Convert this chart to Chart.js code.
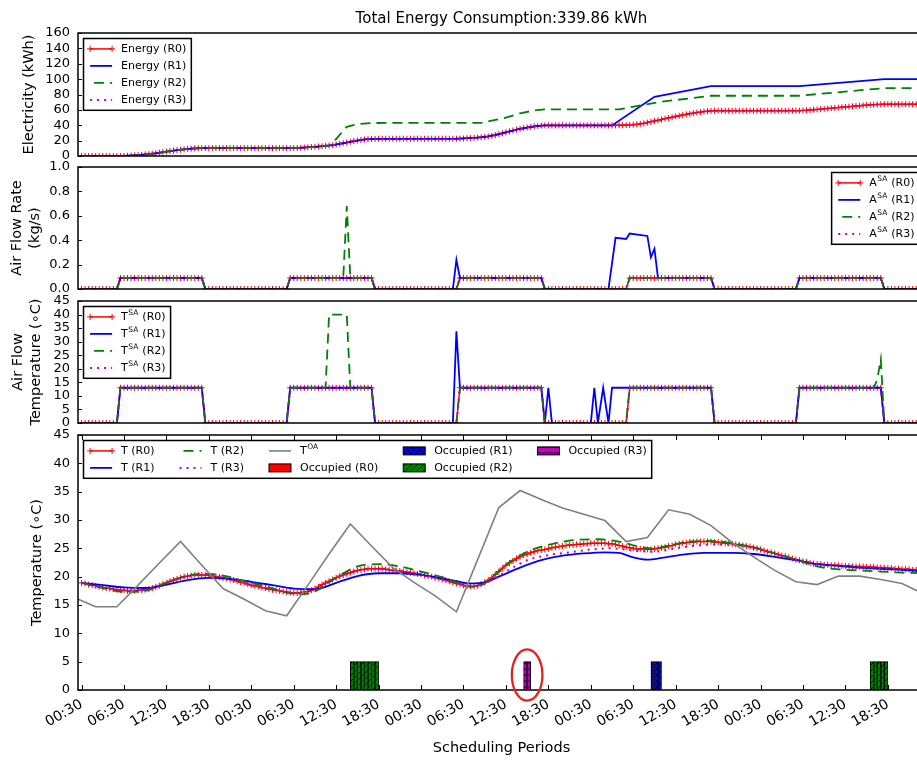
<!DOCTYPE html>
<html>
<head>
<meta charset="utf-8">
<script src="https://cdn.jsdelivr.net/npm/chart.js@4.4.0/dist/chart.umd.min.js"></script>
<style>
  html, body { margin: 0; padding: 0; background: #fff; overflow: hidden; width: 917px; height: 760px; }
  #wrap { position: relative; width: 930px; height: 760px; }
  #wrap canvas { position: absolute; left: 0; top: 0; }
</style>
</head>
<body>
<div id="wrap">
  <canvas id="energyChart" width="930" height="760"></canvas>
  <canvas id="flowChart" width="930" height="760"></canvas>
  <canvas id="supplyChart" width="930" height="760"></canvas>
  <canvas id="roomChart" width="930" height="760"></canvas>
</div>
<script>
const heading = 'Total Energy Consumption:339.86 kWh';

// half-hour scheduling periods, period 0 = 00:30 on day one
const tickPositions = [0, 12, 24, 36, 48, 60, 72, 84, 96, 108, 120, 132, 144, 156, 168, 180, 192, 204, 216, 228];
const tickLabels = ['00:30', '06:30', '12:30', '18:30', '00:30', '06:30', '12:30', '18:30',
  '00:30', '06:30', '12:30', '18:30', '00:30', '06:30', '12:30', '18:30',
  '00:30', '06:30', '12:30', '18:30'];

// cumulative electricity (kWh)
const energyR0 = [
  0, 0, 0, 0, 0, 0, 0, 0, 0, 0, 0, 0,
  0.1, 0.3, 0.6, 0.9, 1.2, 1.6, 2.0, 2.3, 2.9, 3.6, 4.3, 5.0, 5.7, 6.4, 7.0, 7.6, 8.2, 8.7, 9.2, 9.6, 9.9, 10.1, 10.2,
  10.2, 10.2, 10.2, 10.2, 10.2, 10.2, 10.2, 10.2, 10.2, 10.2, 10.2, 10.2, 10.2, 10.2, 10.2, 10.2, 10.2, 10.2, 10.2, 10.2, 10.2, 10.2, 10.2, 10.2, 10.2, 10.2,
  10.4, 10.7, 11.0, 11.4, 11.7, 12.0, 12.4, 12.8, 13.2, 13.6, 14.1, 14.9, 15.8, 16.7, 17.6, 18.5, 19.4, 20.2, 20.9, 21.5, 21.9, 22.2, 22.4,
  22.5, 22.5, 22.5, 22.5, 22.5, 22.5, 22.5, 22.5, 22.5, 22.5, 22.5, 22.5, 22.5, 22.5, 22.5, 22.5, 22.5, 22.5, 22.5, 22.5, 22.5, 22.5, 22.5,
  22.6, 22.8, 23.1, 23.4, 23.7, 24.0, 24.4, 24.8, 25.4, 26.2, 27.2, 28.4, 29.6, 30.8, 32.0, 33.2, 34.3, 35.3, 36.2, 37.0, 37.8, 38.5, 39.1, 39.6, 39.8,
  39.8, 39.8, 39.8, 39.8, 39.8, 39.8, 39.8, 39.8, 39.8, 39.8, 39.8, 39.8, 39.8, 39.8, 39.8, 39.8, 39.8, 39.8, 39.8,
  39.9, 40.0, 40.1, 40.2, 40.4, 40.7, 41.2, 41.8, 42.6, 43.5, 44.5, 45.5, 46.5, 47.5, 48.5, 49.5, 50.5, 51.5, 52.4, 53.3, 54.2, 55.0, 55.8, 56.5, 57.2, 57.8, 58.3, 58.7, 58.9,
  58.9, 58.9, 58.9, 58.9, 58.9, 58.9, 58.9, 58.9, 58.9, 58.9, 58.9, 58.9, 58.9, 58.9, 58.9, 58.9, 58.9, 58.9, 58.9, 58.9, 58.9, 58.9, 58.9,
  59.0, 59.2, 59.5, 59.8, 60.2, 60.6, 61.0, 61.4, 61.8, 62.2, 62.6, 63.0, 63.4, 63.8, 64.2, 64.6, 65.0, 65.4, 65.8, 66.2, 66.5, 66.8, 67.0, 67.2, 67.3,
  67.3, 67.3, 67.3, 67.3, 67.3, 67.3, 67.3, 67.3, 67.3, 67.3, 67.3, 67.3
];
const energyR1 = [[0, 0], [12, 0], [16, 1.2], [20, 2.9], [27, 7.6], [31, 9.6], [34, 10.2], [60, 10.2], [66, 12.0], [71, 14.1],
  [76, 18.5], [80, 21.5], [83, 22.4], [106, 22.5], [112, 24.0], [115, 25.4], [118, 28.4], [124, 35.3], [128, 38.5], [131, 39.8],
  [150, 39.8], [162, 77], [178, 91], [203, 91], [227, 100], [239, 100]];
const energyR2 = [[0, 0], [12, 0], [16, 1.2], [20, 2.9], [27, 7.6], [31, 9.6], [34, 10.2], [60, 10.2], [66, 12.0], [70, 13.6],
  [71, 17], [75, 38], [78, 41.5], [82, 42.8], [86, 43.1], [113, 43.1], [116, 46], [120, 50], [124, 55.4], [128, 59.3], [131, 60.6],
  [152, 60.6], [157, 65], [164, 70.6], [172, 75], [178, 78.4], [203, 78.4], [227, 88.3], [239, 88.3]];
const energyR3 = energyR0;

// supply air flow rate (kg/s)
const flowR0 = [
  0, 0, 0, 0, 0, 0, 0, 0, 0, 0, 0, 0.09, 0.09, 0.09, 0.09, 0.09, 0.09, 0.09, 0.09, 0.09, 0.09, 0.09, 0.09, 0.09, 0.09, 0.09, 0.09, 0.09, 0.09, 0.09, 0.09, 0.09, 0.09, 0.09, 0.09, 0, 0, 0, 0, 0, 0, 0, 0, 0, 0, 0, 0, 0,
  0, 0, 0, 0, 0, 0, 0, 0, 0, 0, 0, 0.09, 0.09, 0.09, 0.09, 0.09, 0.09, 0.09, 0.09, 0.09, 0.09, 0.09, 0.09, 0.09, 0.09, 0.09, 0.09, 0.09, 0.09, 0.09, 0.09, 0.09, 0.09, 0.09, 0.09, 0, 0, 0, 0, 0, 0, 0, 0, 0, 0, 0, 0, 0,
  0, 0, 0, 0, 0, 0, 0, 0, 0, 0, 0, 0.09, 0.09, 0.09, 0.09, 0.09, 0.09, 0.09, 0.09, 0.09, 0.09, 0.09, 0.09, 0.09, 0.09, 0.09, 0.09, 0.09, 0.09, 0.09, 0.09, 0.09, 0.09, 0.09, 0.09, 0, 0, 0, 0, 0, 0, 0, 0, 0, 0, 0, 0, 0,
  0, 0, 0, 0, 0, 0, 0, 0, 0, 0, 0, 0.09, 0.09, 0.09, 0.09, 0.09, 0.09, 0.09, 0.09, 0.09, 0.09, 0.09, 0.09, 0.09, 0.09, 0.09, 0.09, 0.09, 0.09, 0.09, 0.09, 0.09, 0.09, 0.09, 0.09, 0, 0, 0, 0, 0, 0, 0, 0, 0, 0, 0, 0, 0,
  0, 0, 0, 0, 0, 0, 0, 0, 0, 0, 0, 0.09, 0.09, 0.09, 0.09, 0.09, 0.09, 0.09, 0.09, 0.09, 0.09, 0.09, 0.09, 0.09, 0.09, 0.09, 0.09, 0.09, 0.09, 0.09, 0.09, 0.09, 0.09, 0.09, 0.09, 0, 0, 0, 0, 0, 0, 0, 0, 0, 0, 0, 0, 0
];
const flowR1 = [[0, 0], [10, 0], [11, 0.09], [34, 0.09], [35, 0], [58, 0], [59, 0.09], [82, 0.09], [83, 0], [105, 0], [106, 0.24],
  [107, 0.09], [130, 0.09], [131, 0], [149, 0], [151, 0.42], [154, 0.41], [155, 0.455], [160, 0.435], [161, 0.26], [162, 0.33],
  [163, 0.09], [178, 0.09], [179, 0], [202, 0], [203, 0.09], [226, 0.09], [227, 0], [239, 0]];
const flowR2 = [[0, 0], [10, 0], [11, 0.09], [34, 0.09], [35, 0], [58, 0], [59, 0.09], [74, 0.09], [75, 0.68], [76, 0.09],
  [82, 0.09], [83, 0], [106, 0], [107, 0.09], [130, 0.09], [131, 0], [154, 0], [155, 0.09], [178, 0.09], [179, 0], [202, 0],
  [203, 0.09], [226, 0.09], [227, 0], [239, 0]];
const flowR3 = flowR0;

// supply air temperature (C)
const supplyR0 = [
  0, 0, 0, 0, 0, 0, 0, 0, 0, 0, 0, 13, 13, 13, 13, 13, 13, 13, 13, 13, 13, 13, 13, 13, 13, 13, 13, 13, 13, 13, 13, 13, 13, 13, 13, 0, 0, 0, 0, 0, 0, 0, 0, 0, 0, 0, 0, 0,
  0, 0, 0, 0, 0, 0, 0, 0, 0, 0, 0, 13, 13, 13, 13, 13, 13, 13, 13, 13, 13, 13, 13, 13, 13, 13, 13, 13, 13, 13, 13, 13, 13, 13, 13, 0, 0, 0, 0, 0, 0, 0, 0, 0, 0, 0, 0, 0,
  0, 0, 0, 0, 0, 0, 0, 0, 0, 0, 0, 13, 13, 13, 13, 13, 13, 13, 13, 13, 13, 13, 13, 13, 13, 13, 13, 13, 13, 13, 13, 13, 13, 13, 13, 0, 0, 0, 0, 0, 0, 0, 0, 0, 0, 0, 0, 0,
  0, 0, 0, 0, 0, 0, 0, 0, 0, 0, 0, 13, 13, 13, 13, 13, 13, 13, 13, 13, 13, 13, 13, 13, 13, 13, 13, 13, 13, 13, 13, 13, 13, 13, 13, 0, 0, 0, 0, 0, 0, 0, 0, 0, 0, 0, 0, 0,
  0, 0, 0, 0, 0, 0, 0, 0, 0, 0, 0, 13, 13, 13, 13, 13, 13, 13, 13, 13, 13, 13, 13, 13, 13, 13, 13, 13, 13, 13, 13, 13, 13, 13, 13, 0, 0, 0, 0, 0, 0, 0, 0, 0, 0, 0, 0, 0
];
const supplyR1 = [[0, 0], [10, 0], [11, 13], [34, 13], [35, 0], [58, 0], [59, 13], [82, 13], [83, 0], [105, 0], [106, 33.8],
  [107, 13], [130, 13], [131, 0], [132, 13], [133, 0], [144, 0], [145, 13], [146, 0], [147.5, 13], [149, 0], [150, 13],
  [178, 13], [179, 0], [202, 0], [203, 13], [226, 13], [227, 0], [239, 0]];
const supplyR2 = [[0, 0], [10, 0], [11, 13], [34, 13], [35, 0], [58, 0], [59, 13], [69, 13], [70, 40], [75, 40], [76, 13],
  [82, 13], [83, 0], [106, 0], [107, 13], [130, 13], [131, 0], [154, 0], [155, 13], [178, 13], [179, 0], [202, 0], [203, 13],
  [224, 13], [225, 16], [226, 23.5], [227, 0], [239, 0]];
const supplyR3 = supplyR0;

// room temperature (C)
const roomR0 = [
  18.9, 18.8, 18.6, 18.5, 18.4, 18.2, 18.1, 18.0, 17.9, 17.8, 17.7, 17.6, 17.6, 17.5, 17.5, 17.5, 17.6, 17.6, 17.7, 17.8, 18.0, 18.2, 18.4, 18.7,
  18.9, 19.2, 19.4, 19.6, 19.8, 20.0, 20.1, 20.2, 20.3, 20.3, 20.3, 20.3, 20.2, 20.1, 20.0, 19.9, 19.8, 19.7, 19.5, 19.4, 19.2, 19.0, 18.9, 18.7,
  18.5, 18.4, 18.3, 18.1, 18.0, 17.8, 17.7, 17.6, 17.5, 17.4, 17.3, 17.2, 17.1, 17.1, 17.2, 17.3, 17.4, 17.6, 17.9, 18.2, 18.6, 18.9, 19.2, 19.5,
  19.8, 20.1, 20.3, 20.5, 20.7, 20.9, 21.1, 21.2, 21.3, 21.4, 21.4, 21.4, 21.4, 21.4, 21.3, 21.2, 21.1, 21.1, 21.0, 20.9, 20.8, 20.7, 20.6, 20.5,
  20.4, 20.2, 20.1, 20.0, 19.8, 19.7, 19.5, 19.4, 19.2, 19.0, 18.8, 18.7, 18.5, 18.3, 18.3, 18.3, 18.4, 18.7, 19.0, 19.4, 19.8, 20.4, 20.9, 21.5,
  22.0, 22.4, 22.8, 23.2, 23.5, 23.8, 24.0, 24.2, 24.4, 24.6, 24.7, 24.8, 24.9, 25.1, 25.2, 25.3, 25.4, 25.5, 25.6, 25.6, 25.7, 25.7, 25.8, 25.8,
  25.9, 25.9, 25.9, 25.9, 25.9, 25.8, 25.8, 25.7, 25.5, 25.4, 25.2, 25.1, 25.0, 24.9, 24.9, 24.9, 24.8, 24.8, 24.9, 25.0, 25.1, 25.2, 25.4, 25.5,
  25.7, 25.8, 25.9, 26.0, 26.1, 26.1, 26.2, 26.2, 26.2, 26.2, 26.2, 26.1, 26.1, 26.0, 25.9, 25.9, 25.8, 25.7, 25.6, 25.5, 25.4, 25.3, 25.1, 25.0,
  24.8, 24.6, 24.4, 24.3, 24.1, 23.9, 23.7, 23.6, 23.4, 23.2, 23.0, 22.9, 22.7, 22.6, 22.4, 22.3, 22.2, 22.2, 22.1, 22.1, 22.0, 22.0, 22.0, 21.9,
  21.9, 21.9, 21.8, 21.8, 21.8, 21.8, 21.7, 21.7, 21.7, 21.6, 21.6, 21.6, 21.5, 21.5, 21.4, 21.4, 21.3, 21.3, 21.3, 21.2, 21.2, 21.2, 21.1, 21.1
];
const roomR1 = [[0, 18.9], [6, 18.5], [12, 18.1], [18, 18.0], [24, 18.6], [30, 19.4], [36, 19.8], [42, 19.6], [48, 19.1], [54, 18.5],
  [60, 17.9], [66, 17.8], [72, 18.9], [78, 20.1], [84, 20.6], [90, 20.6], [96, 20.3], [102, 19.7], [106, 19.2], [110, 18.8],
  [114, 19.0], [118, 20.0], [124, 21.6], [130, 22.9], [136, 23.7], [142, 24.1], [148, 24.3], [152, 24.2], [156, 23.4], [160, 23.0],
  [164, 23.3], [170, 23.9], [176, 24.2], [184, 24.2], [190, 24.0], [196, 23.5], [202, 22.9], [208, 22.2], [214, 21.9], [220, 21.6],
  [226, 21.4], [232, 21.2], [239, 20.9]];
const roomR2 = [[0, 18.9], [6, 18.0], [12, 17.3], [18, 17.5], [24, 18.9], [30, 20.2], [34, 20.5], [40, 20.2], [46, 19.2], [52, 18.3],
  [58, 17.2], [62, 16.9], [66, 17.4], [72, 19.8], [78, 21.8], [84, 22.2], [90, 21.8], [96, 20.9], [102, 19.9], [106, 19.0],
  [110, 18.2], [114, 18.8], [118, 21.0], [122, 23.0], [128, 24.9], [134, 25.9], [140, 26.5], [146, 26.6], [150, 26.4], [154, 25.9],
  [158, 25.2], [162, 25.0], [166, 25.5], [172, 26.2], [178, 26.3], [184, 25.9], [190, 25.2], [196, 24.1], [202, 23.0], [208, 21.8],
  [214, 21.3], [220, 21.1], [226, 20.9], [232, 20.7], [239, 20.6]];
const roomR3 = [[0, 18.9], [6, 18.1], [12, 17.6], [18, 17.7], [24, 18.9], [30, 20.1], [36, 20.3], [42, 19.6], [48, 18.5], [54, 17.7],
  [60, 17.1], [66, 17.8], [72, 19.8], [78, 21.1], [84, 21.4], [90, 21.0], [96, 20.4], [102, 19.5], [108, 18.5], [112, 18.4],
  [116, 19.4], [120, 20.9], [126, 22.9], [132, 23.8], [138, 24.3], [144, 24.8], [150, 25.0], [156, 24.6], [162, 24.4], [168, 25.0],
  [174, 25.5], [180, 25.7], [186, 25.5], [192, 24.8], [198, 23.7], [204, 22.7], [210, 22.1], [216, 21.9], [222, 21.7], [228, 21.5],
  [234, 21.3], [239, 21.1]];
// outdoor air, 3-hourly
const outdoor = [[-2, 16.3], [4, 14.7], [10, 14.7], [16, 18.5], [22, 22.4], [28, 26.2], [34, 22.0], [40, 17.9], [46, 16.0],
  [52, 14.0], [58, 13.1], [64, 18.5], [70, 24.0], [76, 29.3], [82, 25.4], [88, 21.6], [94, 19.0], [100, 16.6], [106, 13.8],
  [112, 23.0], [118, 32.2], [124, 35.2], [130, 33.6], [136, 32.1], [142, 31.0], [148, 29.9], [154, 26.2], [160, 26.9],
  [166, 31.8], [172, 31.0], [178, 29.0], [184, 26.0], [190, 23.5], [196, 21.1], [202, 19.1], [208, 18.6], [214, 20.1],
  [220, 20.1], [226, 19.5], [232, 18.8], [238, 17.0]];

// occupied periods per room
const occR0 = [];
const occR1 = [161, 162, 163];
const occR2 = [76, 77, 78, 79, 80, 81, 82, 83, 223, 224, 225, 226, 227];
const occR3 = [125, 126];
const occupiedLevel = 5;

Chart.defaults.font.family = '"DejaVu Sans", sans-serif';
Chart.defaults.color = '#000';

const W = 930;
const X_MIN = -1, X_MAX = 238.5;
const PLOT_RIGHT = 927.3;
const FONT = '"DejaVu Sans", sans-serif';

const series = arr => arr.map((v, i) => ({ x: i, y: v }));
const pairs = arr => arr.map(([x, y]) => ({ x, y }));

const r0Style = { borderColor: '#ff0000', borderWidth: 1.5, pointStyle: 'cross', pointRadius: 3, pointBorderColor: '#ff0000', pointBorderWidth: 1, order: 4 };
const r1Style = { borderColor: '#0000ff', borderWidth: 1.8, pointRadius: 0, order: 3 };
const r2Style = { borderColor: '#008000', borderWidth: 1.8, borderDash: [10, 6], pointRadius: 0, order: 2 };
const r3Style = { borderColor: '#bf00bf', borderWidth: 2, borderDash: [2, 5], pointRadius: 0, order: 1 };

function hatch(bg, kind) {
  const c = document.createElement('canvas');
  c.width = 6; c.height = 6;
  const g = c.getContext('2d');
  g.fillStyle = bg;
  g.fillRect(0, 0, 6, 6);
  g.strokeStyle = '#000';
  g.lineWidth = 0.8;
  g.beginPath();
  if (kind === 'diag' || kind === 'cross') {
    g.moveTo(0, 6); g.lineTo(6, 0);
    g.moveTo(-3, 3); g.lineTo(3, -3);
    g.moveTo(3, 9); g.lineTo(9, 3);
  }
  if (kind === 'cross') {
    g.moveTo(0, 0); g.lineTo(6, 6);
    g.moveTo(-3, 3); g.lineTo(3, 9);
    g.moveTo(3, -3); g.lineTo(9, 3);
  }
  if (kind === 'wave') {
    g.moveTo(0, 4); g.lineTo(1.5, 2); g.lineTo(3, 4); g.lineTo(4.5, 2); g.lineTo(6, 4);
  }
  g.stroke();
  return g.createPattern(c, 'repeat');
}

// box around the plot plus inward tick marks
const frame = {
  id: 'frame',
  afterDatasetsDraw(chart) {
    const { ctx, chartArea: a, scales } = chart;
    ctx.save();
    ctx.strokeStyle = '#000';
    ctx.lineWidth = 1;
    ctx.beginPath();
    scales.y.ticks.forEach(t => {
      const py = Math.round(scales.y.getPixelForValue(t.value)) + 0.5;
      ctx.moveTo(a.left, py); ctx.lineTo(a.left + 4, py);
      ctx.moveTo(a.right, py); ctx.lineTo(a.right - 4, py);
    });
    if (scales.x.options.display) {
      scales.x.ticks.forEach(t => {
        const px = Math.round(scales.x.getPixelForValue(t.value)) + 0.5;
        ctx.moveTo(px, a.bottom); ctx.lineTo(px, a.bottom - 5);
        ctx.moveTo(px, a.top); ctx.lineTo(px, a.top + 5);
      });
    }
    ctx.stroke();
    ctx.lineWidth = 1.5;
    ctx.strokeRect(a.left, a.top, a.right - a.left, a.bottom - a.top);
    ctx.restore();
  }
};

const headingPlugin = {
  id: 'heading',
  afterDraw(chart, args, o) {
    if (!o || !o.text) return;
    const { ctx, chartArea: a } = chart;
    ctx.save();
    ctx.font = '15px ' + FONT;
    ctx.fillStyle = '#000';
    ctx.textAlign = 'center';
    ctx.textBaseline = 'middle';
    ctx.fillText(o.text, (a.left + a.right) / 2, o.y);
    ctx.restore();
  }
};

const markRing = {
  id: 'markRing',
  afterDatasetsDraw(chart, args, o) {
    if (!o || o.x == null) return;
    const { ctx, scales: { x, y } } = chart;
    ctx.save();
    ctx.strokeStyle = o.color;
    ctx.lineWidth = o.width;
    ctx.beginPath();
    ctx.ellipse(x.getPixelForValue(o.x), y.getPixelForValue(o.y), o.rx, o.ry, 0, 0, Math.PI * 2);
    ctx.stroke();
    ctx.restore();
  }
};

// legend drawn in the old matplotlib way, inside the axes
const LG = { font: '11px ' + FONT, supFont: '7.5px ' + FONT, handle: 22, textPad: 9, colSep: 25, padL: 6.6, padR: 5, padY: 1.9, rowH: 17, inset: 5.5 };

function labelWidth(ctx, d) {
  ctx.font = LG.font;
  let w = ctx.measureText(d.label).width;
  if (d.labelSup) {
    ctx.font = LG.supFont;
    w += ctx.measureText(d.labelSup).width + 1;
    ctx.font = LG.font;
    w += ctx.measureText(d.labelTail).width;
  }
  return w;
}

function drawHandle(ctx, d, x, y) {
  ctx.save();
  if (d.type === 'bar') {
    ctx.fillStyle = d.backgroundColor;
    ctx.fillRect(x, y - 4, LG.handle, 8);
    ctx.strokeStyle = '#000';
    ctx.lineWidth = 1;
    ctx.strokeRect(x, y - 4, LG.handle, 8);
  } else {
    ctx.strokeStyle = d.borderColor;
    ctx.lineWidth = d.borderWidth;
    if (d.borderDash) {
      ctx.setLineDash(d.borderDash);
      ctx.lineDashOffset = d.borderDash[0] > 4 ? 12 : 0;
    }
    ctx.beginPath();
    ctx.moveTo(x, y); ctx.lineTo(x + LG.handle, y);
    ctx.stroke();
    ctx.setLineDash([]);
    if (d.pointStyle === 'cross') {
      ctx.lineWidth = 1;
      ctx.beginPath();
      [x, x + LG.handle].forEach(px => {
        ctx.moveTo(px - 3, y); ctx.lineTo(px + 3, y);
        ctx.moveTo(px, y - 3); ctx.lineTo(px, y + 3);
      });
      ctx.stroke();
    }
  }
  ctx.restore();
}

function drawLabel(ctx, d, x, y) {
  ctx.fillStyle = '#000';
  ctx.textAlign = 'left';
  ctx.textBaseline = 'middle';
  ctx.font = LG.font;
  ctx.fillText(d.label, x, y);
  if (d.labelSup) {
    x += ctx.measureText(d.label).width;
    ctx.font = LG.supFont;
    ctx.fillText(d.labelSup, x + 0.5, y - 3.5);
    x += ctx.measureText(d.labelSup).width + 1;
    ctx.font = LG.font;
    ctx.fillText(d.labelTail, x, y);
  }
}

const mplLegend = {
  id: 'mplLegend',
  afterDraw(chart, args, o) {
    if (!o || !o.ncol) return;
    const { ctx, chartArea: a } = chart;
    const ds = chart.data.datasets;
    const nrow = Math.ceil(ds.length / o.ncol);
    ctx.save();
    const colW = [];
    for (let c = 0; c < o.ncol; c++) {
      let w = 0;
      ds.slice(c * nrow, c * nrow + nrow).forEach(d => { w = Math.max(w, labelWidth(ctx, d)); });
      colW.push(w);
    }
    const width = LG.padL + colW.reduce((s, w) => s + LG.handle + LG.textPad + w, 0) + (o.ncol - 1) * LG.colSep + LG.padR;
    const height = 2 * LG.padY + nrow * LG.rowH;
    const left = o.corner === 'tr' ? a.right - LG.inset - width : a.left + LG.inset;
    const top = a.top + LG.inset;
    ctx.fillStyle = '#fff';
    ctx.fillRect(left, top, width, height);
    ctx.strokeStyle = '#000';
    ctx.lineWidth = 1.5;
    ctx.strokeRect(left, top, width, height);
    let x = left + LG.padL;
    for (let c = 0; c < o.ncol; c++) {
      for (let r = 0; r < nrow; r++) {
        const d = ds[c * nrow + r];
        if (!d) continue;
        const y = top + LG.padY + LG.rowH * (r + 0.5);
        drawHandle(ctx, d, x, y);
        drawLabel(ctx, d, x + LG.handle + LG.textPad, y);
      }
      x += LG.handle + LG.textPad + colW[c] + LG.colSep;
    }
    ctx.restore();
  }
};

function xAxis(show) {
  return {
    type: 'linear',
    min: X_MIN,
    max: X_MAX,
    offset: false,
    display: show,
    grid: { display: false, drawTicks: false, offset: false },
    border: { display: false },
    afterBuildTicks(s) { s.ticks = tickPositions.map(v => ({ value: v })); },
    afterFit(s) { if (show) s.height = 70; },
    ticks: {
      autoSkip: false,
      minRotation: 30,
      maxRotation: 30,
      padding: 6,
      font: { size: 14 },
      callback: (v, i) => tickLabels[i]
    },
    title: { display: show, text: 'Scheduling Periods', font: { size: 14.5 }, padding: { top: 0, bottom: 3 } }
  };
}

function yAxis(min, max, step, title, titlePad, fmt) {
  return {
    min, max,
    afterFit(s) { s.width = 78; },
    grid: { display: false, drawTicks: false },
    border: { display: false },
    ticks: { stepSize: step, autoSkip: false, padding: 8, font: { size: 13 }, callback: fmt || (v => v) },
    title: { display: true, text: title, font: { size: 14.5 }, padding: { top: titlePad, bottom: 0 } }
  };
}

function makePanel(id, datasets, top, bottom, y, legend, extra) {
  const isLast = bottom === 0;
  return new Chart(document.getElementById(id), {
    type: 'line',
    data: { datasets },
    options: {
      responsive: false,
      animation: false,
      events: [],
      layout: { padding: { left: 0, right: W - PLOT_RIGHT, top, bottom } },
      elements: { line: { tension: 0 } },
      plugins: Object.assign({ legend: { display: false }, tooltip: { enabled: false }, mplLegend: legend }, extra || {}),
      scales: { x: xAxis(isLast), y }
    },
    plugins: [frame, headingPlugin, markRing, mplLegend]
  });
}

makePanel('energyChart', [
  Object.assign({ label: 'Energy (R0)', data: series(energyR0) }, r0Style),
  Object.assign({ label: 'Energy (R1)', data: pairs(energyR1) }, r1Style),
  Object.assign({ label: 'Energy (R2)', data: pairs(energyR2) }, r2Style),
  Object.assign({ label: 'Energy (R3)', data: series(energyR3) }, r3Style)
], 33, 760 - 156, yAxis(0, 160, 20, 'Electricity (kWh)', 20.8), { corner: 'tl', ncol: 1 },
  { heading: { text: heading, y: 19 } });

makePanel('flowChart', [
  Object.assign({ label: 'A', labelSup: 'SA', labelTail: ' (R0)', data: series(flowR0) }, r0Style),
  Object.assign({ label: 'A', labelSup: 'SA', labelTail: ' (R1)', data: pairs(flowR1) }, r1Style),
  Object.assign({ label: 'A', labelSup: 'SA', labelTail: ' (R2)', data: pairs(flowR2) }, r2Style),
  Object.assign({ label: 'A', labelSup: 'SA', labelTail: ' (R3)', data: series(flowR3) }, r3Style)
], 167, 760 - 289, yAxis(0, 1, 0.2, ['Air Flow Rate', '(kg/s)'], 8.8, v => v.toFixed(1)), { corner: 'tr', ncol: 1 });

makePanel('supplyChart', [
  Object.assign({ label: 'T', labelSup: 'SA', labelTail: ' (R0)', data: series(supplyR0) }, r0Style),
  Object.assign({ label: 'T', labelSup: 'SA', labelTail: ' (R1)', data: pairs(supplyR1) }, r1Style),
  Object.assign({ label: 'T', labelSup: 'SA', labelTail: ' (R2)', data: pairs(supplyR2) }, r2Style),
  Object.assign({ label: 'T', labelSup: 'SA', labelTail: ' (R3)', data: series(supplyR3) }, r3Style)
], 301, 760 - 423, yAxis(0, 45, 5, ['Air Flow', 'Temperature (\u2218C)'], 10), { corner: 'tl', ncol: 1 });

const occBar = (label, rooms, fill, order) => ({
  type: 'bar', label,
  data: rooms.map(i => ({ x: i + 0.5, y: occupiedLevel })),
  backgroundColor: fill, borderColor: '#000', borderWidth: 1,
  grouped: false, barPercentage: 1, categoryPercentage: 1, order
});

makePanel('roomChart', [
  Object.assign({ label: 'T (R0)', data: series(roomR0) }, r0Style),
  Object.assign({ label: 'T (R1)', data: pairs(roomR1), cubicInterpolationMode: 'monotone' }, r1Style),
  Object.assign({ label: 'T (R2)', data: pairs(roomR2), cubicInterpolationMode: 'monotone' }, r2Style),
  Object.assign({ label: 'T (R3)', data: pairs(roomR3), cubicInterpolationMode: 'monotone' }, r3Style),
  { label: 'T', labelSup: 'OA', labelTail: '', data: pairs(outdoor), borderColor: '#808080', borderWidth: 1.6, pointRadius: 0, order: 0 },
  occBar('Occupied (R0)', occR0, '#ff0000', 5),
  occBar('Occupied (R1)', occR1, hatch('#0000ff', 'cross'), 6),
  occBar('Occupied (R2)', occR2, hatch('#008000', 'diag'), 7),
  occBar('Occupied (R3)', occR3, hatch('#bf00bf', 'wave'), 8)
], 435, 0, yAxis(0, 45, 5, 'Temperature (\u2218C)', 28.5), { corner: 'tl', ncol: 5 },
  { markRing: { x: 126, y: 2.65, rx: 15.3, ry: 25.7, color: '#e52222', width: 2.3 } });
</script>
</body>
</html>
